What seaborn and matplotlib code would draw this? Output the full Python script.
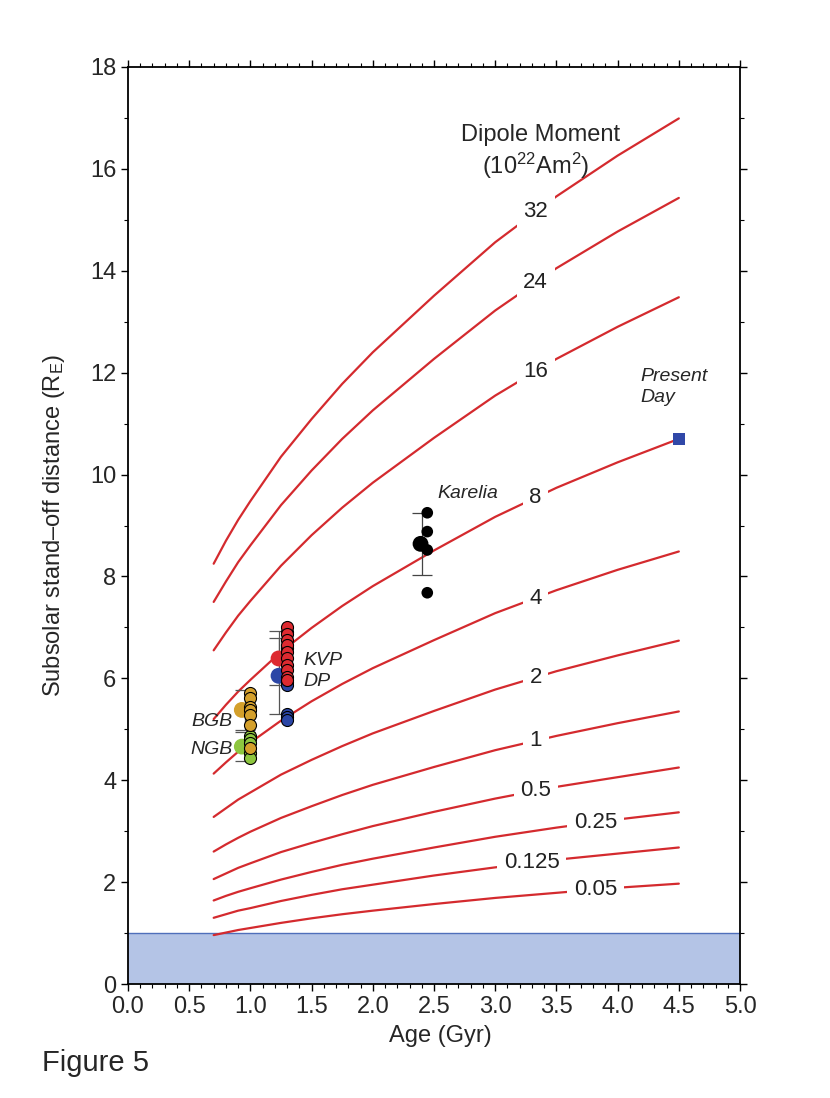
import matplotlib
matplotlib.use('Agg')
import matplotlib.pyplot as plt
import numpy as np
import seaborn as sns

# ages at which the dipole curves were read (Gyr)
ages = [0.7, 0.8, 0.9, 1.0, 1.25, 1.5, 1.75, 2.0, 2.5, 3.0, 3.5, 4.0, 4.5]

# stand-off distance (R_E) for each dipole moment (10^22 Am^2)
moments = ['32', '24', '16', '8', '4', '2', '1', '0.5', '0.25', '0.125', '0.05']
curve_32 = [8.25, 8.70, 9.11, 9.48, 10.35, 11.09, 11.78, 12.40, 13.51, 14.56, 15.46, 16.26, 16.99]
curve_24 = [7.50, 7.90, 8.28, 8.61, 9.40, 10.08, 10.70, 11.26, 12.27, 13.22, 14.05, 14.77, 15.43]
curve_16 = [6.55, 6.90, 7.23, 7.52, 8.21, 8.81, 9.35, 9.84, 10.72, 11.55, 12.27, 12.90, 13.48]
curve_8 = [5.20, 5.48, 5.74, 5.97, 6.52, 6.99, 7.42, 7.81, 8.51, 9.17, 9.74, 10.24, 10.70]
curve_4 = [4.13, 4.35, 4.56, 4.74, 5.17, 5.55, 5.89, 6.20, 6.75, 7.28, 7.73, 8.13, 8.49]
curve_2 = [3.28, 3.45, 3.62, 3.76, 4.11, 4.40, 4.67, 4.92, 5.36, 5.78, 6.14, 6.45, 6.74]
curve_1 = [2.60, 2.74, 2.87, 2.99, 3.26, 3.49, 3.71, 3.91, 4.26, 4.59, 4.87, 5.12, 5.35]
curve_05 = [2.06, 2.17, 2.28, 2.37, 2.59, 2.77, 2.94, 3.10, 3.38, 3.64, 3.87, 4.06, 4.25]
curve_025 = [1.64, 1.73, 1.81, 1.88, 2.05, 2.20, 2.34, 2.46, 2.68, 2.89, 3.07, 3.23, 3.37]
curve_0125 = [1.30, 1.37, 1.44, 1.49, 1.63, 1.75, 1.86, 1.95, 2.13, 2.29, 2.44, 2.56, 2.68]
curve_005 = [0.96, 1.01, 1.06, 1.10, 1.20, 1.29, 1.37, 1.44, 1.57, 1.69, 1.79, 1.89, 1.97]
curves = [curve_32, curve_24, curve_16, curve_8, curve_4, curve_2, curve_1,
          curve_05, curve_025, curve_0125, curve_005]
# age where each curve label sits
label_ages = [3.33, 3.33, 3.33, 3.33, 3.33, 3.33, 3.33, 3.33, 3.82, 3.30, 3.82]

# palaeointensity data
bgb_age = 1.0
bgb_vals = [5.71, 5.61, 5.44, 5.38, 5.28, 5.08]
ngb_age = 1.0
ngb_vals = [4.87, 4.80, 4.73, 4.53, 4.43]
ngb_orange = [4.63]
bgb_mean = (0.93, 5.38, 0.40)
ngb_mean = (0.93, 4.66, 0.29)
bar_age_bgb = 0.96

kvp_age = 1.3
kvp_vals = [7.01, 6.88, 6.75, 6.66, 6.52, 6.39, 6.26, 6.16, 6.03, 5.97]
dp_vals = [6.90, 6.60, 5.93, 5.87, 5.30, 5.24, 5.18]
kvp_mean = (1.23, 6.39, 0.53)
dp_mean = (1.23, 6.05, 0.75)

karelia_age = 2.445
karelia_vals = [9.25, 8.88, 8.52, 7.68]
karelia_mean = (2.39, 8.64)
karelia_bar = (2.40, 8.635, 0.605)

present_day = (4.5, 10.7)

red = '#d42a2e'
orange = '#d4a02c'
green = '#8dc63f'
blue = '#2b46a6'

sns.set_style('ticks')
plt.rcParams['font.family'] = ['Liberation Sans', 'DejaVu Sans']
plt.rcParams['mathtext.fontset'] = 'custom'
plt.rcParams['mathtext.rm'] = 'Liberation Sans'
plt.rcParams['mathtext.it'] = 'Liberation Sans:italic'

fig = plt.figure(figsize=(8.3, 10.98), dpi=100)
ax = fig.add_axes([0.1542, 0.1038, 0.7374, 0.8352])

# shaded region below 1 R_E
ax.axhspan(0, 1, color='#b4c4e6', zorder=0, lw=0)
ax.axhline(1, color='#4f6fbb', lw=1.0, zorder=1)

for name, vals, la in zip(moments, curves, label_ages):
    sns.lineplot(x=ages, y=vals, color=red, lw=1.6, ax=ax, zorder=2)
    ly = np.interp(la, ages, vals)
    ax.text(la, ly, name, fontsize=16, ha='center', va='center', color='#222222', zorder=3,
            bbox=dict(boxstyle='square,pad=0.3', fc='white', ec='none'))

# error bars
for xa, m, e in [(bar_age_bgb, bgb_mean[1], bgb_mean[2]), (bar_age_bgb, ngb_mean[1], ngb_mean[2]),
                 (kvp_mean[0], kvp_mean[1], kvp_mean[2]), (dp_mean[0], dp_mean[1], dp_mean[2])]:
    ax.errorbar(xa, m, yerr=e, fmt='none', ecolor='#555555', elinewidth=0.9, capsize=7,
                capthick=0.9, zorder=4)
ax.errorbar(karelia_bar[0], karelia_bar[1], yerr=karelia_bar[2], fmt='none', ecolor='#444444',
            elinewidth=0.9, capsize=7, capthick=0.9, zorder=4)

# mean points
sns.scatterplot(x=[bgb_mean[0]], y=[bgb_mean[1]], color=orange, s=130, edgecolor='none', ax=ax, zorder=5)
sns.scatterplot(x=[ngb_mean[0]], y=[ngb_mean[1]], color=green, s=130, edgecolor='none', ax=ax, zorder=5)
sns.scatterplot(x=[kvp_mean[0]], y=[kvp_mean[1]], color='#dd2a30', s=130, edgecolor='none', ax=ax, zorder=5)
sns.scatterplot(x=[dp_mean[0]], y=[dp_mean[1]], color=blue, s=130, edgecolor='none', ax=ax, zorder=5)

# individual points
sns.scatterplot(x=[ngb_age] * len(ngb_vals), y=ngb_vals, color=green, s=75, edgecolor='black',
                linewidth=0.8, ax=ax, zorder=6)
sns.scatterplot(x=[bgb_age] * len(bgb_vals), y=bgb_vals, color=orange, s=75, edgecolor='black',
                linewidth=0.8, ax=ax, zorder=6)
sns.scatterplot(x=[ngb_age] * len(ngb_orange), y=ngb_orange, color=orange, s=75, edgecolor='black',
                linewidth=0.8, ax=ax, zorder=7)
sns.scatterplot(x=[kvp_age] * len(dp_vals), y=dp_vals, color=blue, s=75, edgecolor='black',
                linewidth=0.8, ax=ax, zorder=6)
sns.scatterplot(x=[kvp_age] * len(kvp_vals), y=kvp_vals, color='#dd2a30', s=75, edgecolor='black',
                linewidth=0.8, ax=ax, zorder=7)

sns.scatterplot(x=[karelia_mean[0]], y=[karelia_mean[1]], color='black', s=130, edgecolor='none',
                ax=ax, zorder=6)
sns.scatterplot(x=[karelia_age] * len(karelia_vals), y=karelia_vals, color='black', s=70,
                edgecolor='none', ax=ax, zorder=6)

sns.scatterplot(x=[present_day[0]], y=[present_day[1]], marker='s', color='#3048a8', s=80,
                edgecolor='none', ax=ax, zorder=6)

# annotations
ax.text(2.53, 9.62, 'Karelia', fontsize=14, style='italic', va='center', ha='left')
ax.text(4.19, 11.72, 'Present\nDay', fontsize=14, style='italic', va='center', ha='left',
        linespacing=1.35)
ax.text(1.43, 6.36, 'KVP', fontsize=14, style='italic', va='center', ha='left')
ax.text(1.43, 5.93, 'DP', fontsize=14, style='italic', va='center', ha='left')
ax.text(0.855, 5.16, 'BGB', fontsize=14, style='italic', va='center', ha='right')
ax.text(0.855, 4.61, 'NGB', fontsize=14, style='italic', va='center', ha='right')
ax.text(3.37, 16.66, 'Dipole Moment', fontsize=17, ha='center', va='center')
ax.text(3.33, 16.05, r'(10$^{\mathrm{22}}$Am$^{\mathrm{2}}$)', fontsize=17, ha='center', va='center')

ax.set_xlim(0, 5)
ax.set_ylim(0, 18)
ax.set_xticks(np.arange(0, 5.01, 0.5))
ax.set_xticks(np.arange(0, 5.01, 0.1), minor=True)
ax.set_yticks(np.arange(0, 18.1, 2))
ax.set_yticks(np.arange(0, 18.1, 1), minor=True)
ax.xaxis.set_major_formatter(matplotlib.ticker.FormatStrFormatter('%.1f'))
ax.tick_params(which='both', direction='out', top=True, right=True, labelsize=17, color='black')
ax.tick_params(which='major', length=5, width=1.0)
ax.tick_params(which='minor', length=3, width=0.8)
for sp in ax.spines.values():
    sp.set_visible(True)
    sp.set_linewidth(1.3)
    sp.set_color('black')

ax.set_xlabel('Age (Gyr)', fontsize=17)
ax.set_ylabel(r'Subsolar stand–off distance (R$_{\mathrm{E}}$)', fontsize=17)
ax.xaxis.set_label_coords(0.51, -0.045)
ax.yaxis.set_label_coords(-0.10, 0.5)

fig.text(42 / 830, 1 - 1063 / 1098, 'Figure 5', fontsize=21, va='center', ha='left')

fig.savefig('out.png', dpi=100)
